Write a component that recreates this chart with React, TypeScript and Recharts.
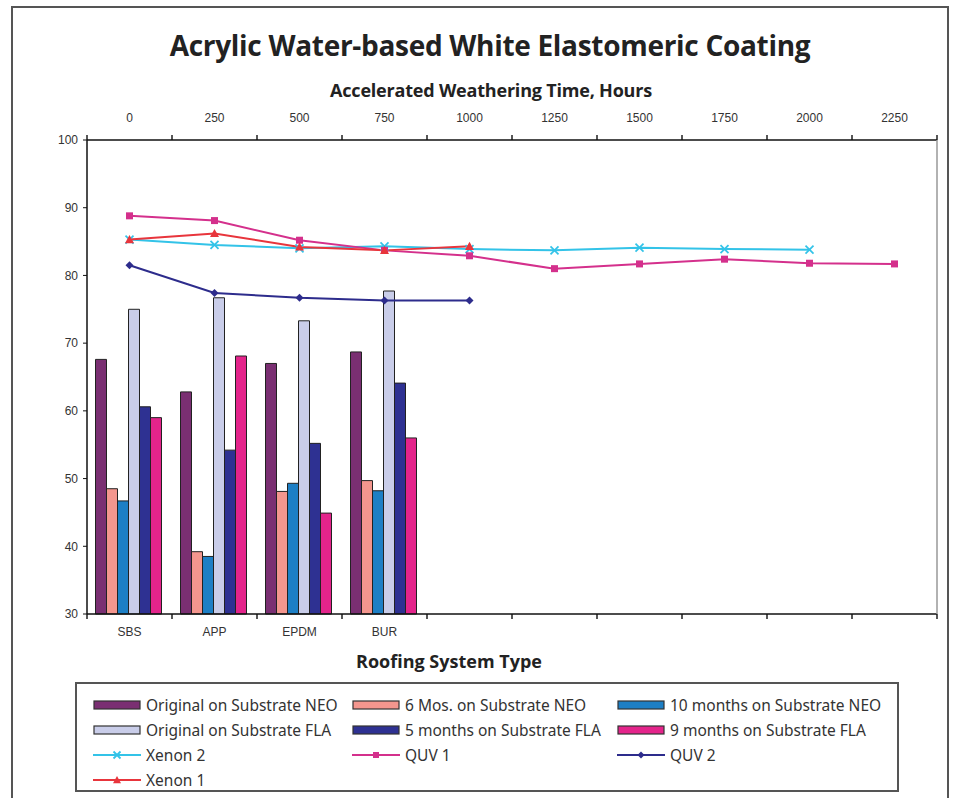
import { ComposedChart, Bar, Line, XAxis, YAxis } from 'recharts';

const HOURS = ['0', '250', '500', '750', '1000', '1250', '1500', '1750', '2000', '2250'];
const SYSTEMS = ['SBS', 'APP', 'EPDM', 'BUR'];
const Y_TICKS = [30, 40, 50, 60, 70, 80, 90, 100];

// bar values per roofing system (SBS, APP, EPDM, BUR)
const ORIGINAL_NEO = [67.6, 62.8, 67.0, 68.7];
const SIX_MOS_NEO = [48.5, 39.2, 48.1, 49.7];
const TEN_MONTHS_NEO = [46.7, 38.5, 49.3, 48.2];
const ORIGINAL_FLA = [75.0, 76.7, 73.3, 77.7];
const FIVE_MONTHS_FLA = [60.6, 54.2, 55.2, 64.1];
const NINE_MONTHS_FLA = [59.0, 68.1, 44.9, 56.0];

// line values per weathering time (0 .. 2250 h)
const XENON_2 = [85.3, 84.5, 84.0, 84.3, 83.9, 83.7, 84.1, 83.9, 83.8];
const QUV_1 = [88.8, 88.1, 85.2, 83.7, 82.9, 81.0, 81.7, 82.4, 81.8, 81.7];
const QUV_2 = [81.5, 77.4, 76.7, 76.3, 76.3];
const XENON_1 = [85.3, 86.2, 84.2, 83.7, 84.3];

type Shape = 'x' | 'square' | 'diamond' | 'triangle';

const BAR_SERIES = [
    { key: 'origNeo', name: 'Original on Substrate NEO', color: '#7a2f72', values: ORIGINAL_NEO },
    { key: 'sixNeo', name: '6 Mos. on Substrate NEO', color: '#f4968e', values: SIX_MOS_NEO },
    { key: 'tenNeo', name: '10 months on Substrate NEO', color: '#1d7fc5', values: TEN_MONTHS_NEO },
    { key: 'origFla', name: 'Original on Substrate FLA', color: '#c9cde9', values: ORIGINAL_FLA },
    { key: 'fiveFla', name: '5 months on Substrate FLA', color: '#2e3192', values: FIVE_MONTHS_FLA },
    { key: 'nineFla', name: '9 months on Substrate FLA', color: '#e4248b', values: NINE_MONTHS_FLA },
];

const LINE_SERIES: { key: string; name: string; color: string; shape: Shape; size: number; values: number[] }[] = [
    { key: 'xenon2', name: 'Xenon 2', color: '#33c3e8', shape: 'x', size: 8, values: XENON_2 },
    { key: 'quv1', name: 'QUV 1', color: '#d4308c', shape: 'square', size: 7, values: QUV_1 },
    { key: 'quv2', name: 'QUV 2', color: '#2d2c8c', shape: 'diamond', size: 8, values: QUV_2 },
    { key: 'xenon1', name: 'Xenon 1', color: '#e8353c', shape: 'triangle', size: 9, values: XENON_1 },
];

const rows = HOURS.map((hours, i) => {
    const row: Record<string, string | number | undefined> = { hours };
    BAR_SERIES.forEach((s) => { row[s.key] = s.values[i]; });
    LINE_SERIES.forEach((s) => { row[s.key] = s.values[i]; });
    return row;
});

const TICK_FONT = '"Liberation Sans", Arial, sans-serif';
const TEXT_FONT = '"Open Sans", "Noto Sans", sans-serif';

const renderMarker = (shape: Shape, cx: number, cy: number, color: string, size: number, key?: string) => {
    const h = size / 2;
    if (shape === 'x') {
        return (
            <g key={key}>
                <line x1={cx - h} y1={cy - h} x2={cx + h} y2={cy + h} stroke={color} strokeWidth={1.8} />
                <line x1={cx - h} y1={cy + h} x2={cx + h} y2={cy - h} stroke={color} strokeWidth={1.8} />
            </g>
        );
    }
    if (shape === 'square') {
        return <rect key={key} x={cx - h} y={cy - h} width={size} height={size} fill={color} />;
    }
    if (shape === 'diamond') {
        return <polygon key={key} points={`${cx},${cy - h} ${cx + h},${cy} ${cx},${cy + h} ${cx - h},${cy}`} fill={color} />;
    }
    return <polygon key={key} points={`${cx},${cy - h} ${cx + h},${cy + h * 0.8} ${cx - h},${cy + h * 0.8}`} fill={color} />;
};

const makeDot = (shape: Shape, color: string, size: number) => (p: any) => {
    const key = `${p.dataKey}-${p.index}`;
    if (p.cx == null || p.cy == null || p.value == null) return <g key={key} />;
    return renderMarker(shape, p.cx, p.cy, color, size, key);
};

// Excel-style category tick: label in the middle, tick mark on the slot boundary
const SlotTick = (props: any) => {
    const { x, y, index, width, visibleTicksCount, labels, side } = props;
    const count = visibleTicksCount || HOURS.length;
    const half = (width || 850) / count / 2;
    const top = side === 'top';
    const markY = top ? y - 5 : y;
    const label = labels[index] ?? '';
    return (
        <g>
            <rect x={x - half - 0.7} y={markY} width={1.4} height={5} fill="#111" />
            {index === count - 1 && <rect x={x + half - 0.7} y={markY} width={1.4} height={5} fill="#111" />}
            <text
                x={x}
                y={top ? y - 18 : y + 22}
                textAnchor="middle"
                fontSize={12}
                fill="#333"
                fontFamily={TICK_FONT}
            >
                {label}
            </text>
        </g>
    );
};

const LegendSwatch = ({ kind, color, shape, size }: { kind: 'bar' | 'line'; color: string; shape?: Shape; size?: number }) => (
    <svg width={48} height={12} style={{ flex: 'none' }}>
        {kind === 'bar' ? (
            <rect x={1} y={2} width={46} height={8} fill={color} stroke="#333" strokeWidth={1.2} />
        ) : (
            <g>
                <line x1={0} x2={48} y1={6} y2={6} stroke={color} strokeWidth={2} />
                {renderMarker(shape!, 24, 6, color, (size ?? 7) - 1)}
            </g>
        )}
    </svg>
);

const LEGEND_COLS = [16, 275, 540];

export default function App() {
    const legendItems = [
        ...BAR_SERIES.map((s) => ({ kind: 'bar' as const, name: s.name, color: s.color })),
        ...LINE_SERIES.map((s) => ({ kind: 'line' as const, name: s.name, color: s.color, shape: s.shape, size: s.size })),
    ];

    return (
        <div style={{ position: 'absolute', left: 0, top: 0, width: 953, height: 798, background: '#fff', overflow: 'hidden' }}>
            <div
                style={{
                    position: 'absolute', left: 11, top: 6, width: 938, height: 800,
                    border: '2px solid #555', borderBottom: 'none', boxSizing: 'border-box',
                }}
            />
            <div style={{ position: 'absolute', left: 0, top: 26, width: 980, textAlign: 'center', fontFamily: TEXT_FONT, fontWeight: 700, fontSize: 28, color: '#222', letterSpacing: -0.3 }}>
                Acrylic Water-based White Elastomeric Coating
            </div>
            <div style={{ position: 'absolute', left: 0, top: 78, width: 982, textAlign: 'center', fontFamily: TEXT_FONT, fontWeight: 700, fontSize: 18, color: '#222', letterSpacing: -0.2 }}>
                Accelerated Weathering Time, Hours
            </div>
            <div style={{ position: 'absolute', left: 0, top: 649, width: 898, textAlign: 'center', fontFamily: TEXT_FONT, fontWeight: 700, fontSize: 18, color: '#222' }}>
                Roofing System Type
            </div>

            <div style={{ position: 'absolute', left: 0, top: 0 }}>
                <ComposedChart
                    width={953}
                    height={798}
                    data={rows}
                    margin={{ top: 116, right: 15, bottom: 160, left: 47 }}
                    barCategoryGap="10%"
                    barGap={0}
                >
                    <XAxis
                        xAxisId="top"
                        dataKey="hours"
                        orientation="top"
                        height={24}
                        interval={0}
                        tickSize={0}
                        tickMargin={0}
                        tickLine={false}
                        axisLine={{ stroke: '#111', strokeWidth: 1.5 }}
                        tick={<SlotTick labels={HOURS} side="top" />}
                    />
                    <XAxis
                        xAxisId="bottom"
                        dataKey="hours"
                        orientation="bottom"
                        height={24}
                        interval={0}
                        tickSize={0}
                        tickMargin={0}
                        tickLine={false}
                        axisLine={{ stroke: '#111', strokeWidth: 1.5 }}
                        tick={<SlotTick labels={SYSTEMS} side="bottom" />}
                    />
                    <YAxis
                        yAxisId="left"
                        domain={[30, 100]}
                        ticks={Y_TICKS}
                        interval={0}
                        width={40}
                        tickSize={4}
                        tickMargin={5}
                        axisLine={{ stroke: '#111', strokeWidth: 1.5 }}
                        tickLine={{ stroke: '#111' }}
                        tick={{ fontSize: 12, fill: '#333', fontFamily: TICK_FONT }}
                    />
                    <YAxis
                        yAxisId="right"
                        orientation="right"
                        domain={[30, 100]}
                        width={1}
                        tick={false}
                        tickLine={false}
                        axisLine={{ stroke: '#999', strokeWidth: 1.5 }}
                    />
                    {BAR_SERIES.map((s) => (
                        <Bar
                            key={s.key}
                            xAxisId="bottom"
                            yAxisId="left"
                            dataKey={s.key}
                            name={s.name}
                            fill={s.color}
                            stroke="#222"
                            strokeWidth={1}
                            isAnimationActive={false}
                        />
                    ))}
                    {LINE_SERIES.map((s) => (
                        <Line
                            key={s.key}
                            xAxisId="top"
                            yAxisId="left"
                            dataKey={s.key}
                            name={s.name}
                            stroke={s.color}
                            strokeWidth={2}
                            dot={makeDot(s.shape, s.color, s.size)}
                            activeDot={false}
                            isAnimationActive={false}
                        />
                    ))}
                </ComposedChart>
            </div>

            <div
                style={{
                    position: 'absolute', left: 75, top: 682, width: 824, height: 110,
                    border: '2px solid #555', boxSizing: 'border-box', background: '#fff',
                }}
            >
                {legendItems.map((item, i) => (
                    <div
                        key={item.name}
                        style={{
                            position: 'absolute',
                            left: LEGEND_COLS[i % 3],
                            top: 11 + 25 * Math.floor(i / 3),
                            height: 20,
                            display: 'flex',
                            alignItems: 'center',
                            gap: 5,
                            fontFamily: '"Noto Sans", sans-serif',
                            fontSize: 15.5,
                            color: '#333',
                            whiteSpace: 'nowrap',
                        }}
                    >
                        <LegendSwatch kind={item.kind} color={item.color} shape={(item as any).shape} size={(item as any).size} />
                        <span>{item.name}</span>
                    </div>
                ))}
            </div>
        </div>
    );
}
